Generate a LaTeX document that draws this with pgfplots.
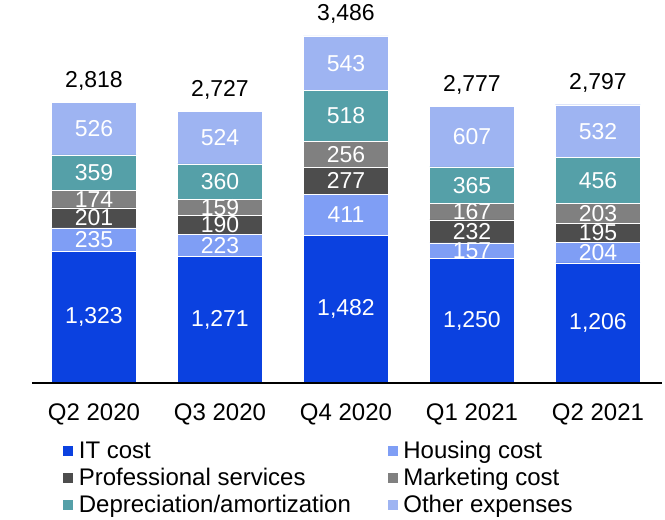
\documentclass[border=0pt]{standalone}
\usepackage{pgfplots}
\pgfplotsset{compat=1.18}
\usepackage{pgfplotstable}
\usepackage{fontspec}
\setmainfont{Liberation Sans}
\definecolor{itc}{RGB}{11,65,224}
\definecolor{hous}{RGB}{127,158,245}
\definecolor{prof}{RGB}{77,77,77}
\definecolor{mkt}{RGB}{128,128,128}
\definecolor{dep}{RGB}{85,160,168}
\definecolor{oth}{RGB}{158,180,242}
\pgfplotstableread{
x it housing prof mkt dep other total
0 1323 235 201 174 359 526 2818
1 1271 223 190 159 360 524 2727
2 1482 411 277 256 518 543 3486
3 1250 157 232 167 365 607 2777
4 1206 204 195 203 456 532 2797
}\data
\newcommand{\fs}{\fontsize{23bp}{26bp}\selectfont}
\newcommand{\fl}{\fontsize{24bp}{27bp}\selectfont}
\pgfplotsset{
  base/.style={scale only axis, width=630bp, height=373bp,
    xmin=-0.492, xmax=4.508, ymin=0, ymax=3748,
    /pgf/number format/assume math mode=true,
    /pgf/number format/1000 sep={,},
    /pgf/number format/fixed, /pgf/number format/precision=0},
  lab/.style={draw=none, mark=none, nodes near coords, point meta=explicit,
    every node near coord/.append style={anchor=center, text=#1, font=\fs}},
}
\begin{document}
\begin{tikzpicture}
\begin{axis}[base,
  ybar stacked, bar width=85bp, axis on top,
  axis x line=bottom, axis line style={line width=1.8bp, -},
  axis y line=none,
  xtick=data, xticklabels={Q2 2020,Q3 2020,Q4 2020,Q1 2021,Q2 2021},
  major tick length=0pt,
  xticklabel style={font=\fl, yshift=-17bp},
  legend columns=2,
  legend style={draw=none, fill=none, font=\fl, at={(axis description cs:0.048,-0.15)}, anchor=north west,
    /tikz/every even column/.append style={column sep=34bp},
    /tikz/every odd column/.append style={column sep=0bp},
    row sep=4bp, legend cell align=left, inner sep=0pt},
  legend image code/.code={\fill[#1] (0bp,-5.5bp) rectangle (11bp,5.5bp); \path (14bp,0bp);},
]
\addplot[fill=itc, draw=white, line width=0.4bp] table[x=x, y=it]{\data};
\addplot[fill=hous, draw=white, line width=0.4bp] table[x=x, y=housing]{\data};
\addplot[fill=prof, draw=white, line width=0.4bp] table[x=x, y=prof]{\data};
\addplot[fill=mkt, draw=white, line width=0.4bp] table[x=x, y=mkt]{\data};
\addplot[fill=dep, draw=white, line width=0.4bp] table[x=x, y=dep]{\data};
\addplot[fill=oth, draw=white, line width=0.4bp] table[x=x, y=other]{\data};
\legend{IT cost, Housing cost, Professional services, Marketing cost, Depreciation/amortization, Other expenses}
\end{axis}
\begin{axis}[base, hide axis]
\addplot[lab=white] table[x=x, y expr=\thisrow{it}/2, meta=it]{\data};
\addplot[lab=white] table[x=x, y expr=\thisrow{it}+\thisrow{housing}/2, meta=housing]{\data};
\addplot[lab=white] table[x=x, y expr=\thisrow{it}+\thisrow{housing}+\thisrow{prof}/2, meta=prof]{\data};
\addplot[lab=white] table[x=x, y expr=\thisrow{it}+\thisrow{housing}+\thisrow{prof}+\thisrow{mkt}/2, meta=mkt]{\data};
\addplot[lab=white] table[x=x, y expr=\thisrow{it}+\thisrow{housing}+\thisrow{prof}+\thisrow{mkt}+\thisrow{dep}/2, meta=dep]{\data};
\addplot[lab=white] table[x=x, y expr=\thisrow{total}-\thisrow{other}/2, meta=other]{\data};
\addplot[lab=black, every node near coord/.append style={anchor=south, yshift=9bp}] table[x=x, y=total, meta=total]{\data};
\end{axis}
\pgfresetboundingbox
\path[use as bounding box] (-32bp,-137bp) rectangle (633bp,383bp);
\end{tikzpicture}
\end{document}
